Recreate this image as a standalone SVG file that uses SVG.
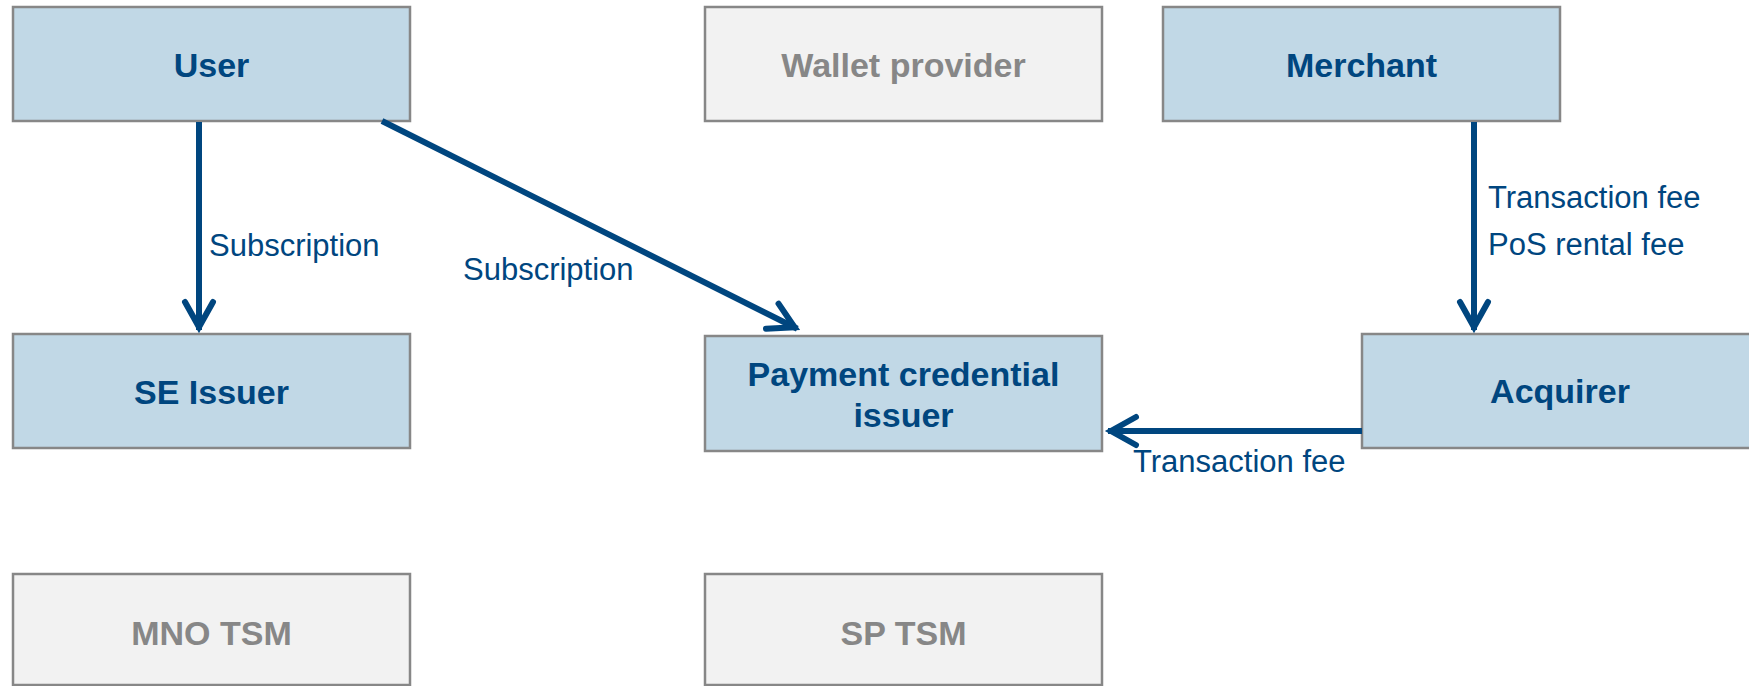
<svg xmlns="http://www.w3.org/2000/svg" width="1749" height="686" viewBox="0 0 1749 686">
<style>
.box{stroke:#878787;stroke-width:2.5}
.blue{fill:#C1D8E6}
.gray{fill:#F2F2F2}
.nt{font-family:"Liberation Sans",Arial,sans-serif;font-weight:bold;font-size:34px;text-anchor:middle}
.nb{fill:#00467F}
.ng{fill:#878787}
.lbl{font-family:"Liberation Sans",Arial,sans-serif;font-size:31px;fill:#00467F}
.conn{stroke:#00467F;stroke-width:6;fill:none}
</style>
<defs>
<marker id="arr" markerUnits="userSpaceOnUse" viewBox="-40 -20 48 40" markerWidth="48" markerHeight="40" refX="0" refY="0" orient="auto">
<path d="M-28,-14 L-3,0 L-28,14" fill="none" stroke="#00467F" stroke-width="6" stroke-linejoin="miter" stroke-linecap="round"/>
</marker>
</defs>
<rect width="1749" height="686" fill="#FFFFFF"/>
<g id="user"><rect class="box blue" x="13" y="7" width="397" height="114"/><text class="nt nb" x="211.5" y="77">User</text></g>
<g id="wallet-provider"><rect class="box gray" x="705" y="7" width="397" height="114"/><text class="nt ng" x="903.5" y="77">Wallet provider</text></g>
<g id="merchant"><rect class="box blue" x="1163" y="7" width="397" height="114"/><text class="nt nb" x="1361.5" y="77">Merchant</text></g>
<g id="se-issuer"><rect class="box blue" x="13" y="334" width="397" height="114"/><text class="nt nb" x="211.5" y="404">SE Issuer</text></g>
<g id="payment-credential-issuer"><rect class="box blue" x="705" y="336" width="397" height="115"/><text class="nt nb" x="903.5" y="386">Payment credential</text><text class="nt nb" x="903.5" y="427">issuer</text></g>
<g id="acquirer"><rect class="box blue" x="1362" y="334" width="397" height="114"/><text class="nt nb" x="1560" y="403">Acquirer</text></g>
<g id="mno-tsm"><rect class="box gray" x="13" y="574" width="397" height="111"/><text class="nt ng" x="211.5" y="645">MNO TSM</text></g>
<g id="sp-tsm"><rect class="box gray" x="705" y="574" width="397" height="111"/><text class="nt ng" x="903.5" y="645">SP TSM</text></g>
<g id="connectors">
<line class="conn" x1="199" y1="122" x2="199" y2="330" marker-end="url(#arr)"/>
<line class="conn" x1="382" y1="121" x2="797.3" y2="328.7" marker-end="url(#arr)"/>
<line class="conn" x1="1474" y1="122" x2="1474" y2="330" marker-end="url(#arr)"/>
<line class="conn" x1="1362" y1="431" x2="1108" y2="431" marker-end="url(#arr)"/>
<text class="lbl" x="209" y="256">Subscription</text>
<text class="lbl" x="463" y="280">Subscription</text>
<text class="lbl" x="1488" y="208">Transaction fee</text>
<text class="lbl" x="1488" y="255">PoS rental fee</text>
<text class="lbl" x="1133" y="472">Transaction fee</text>
</g>
</svg>
